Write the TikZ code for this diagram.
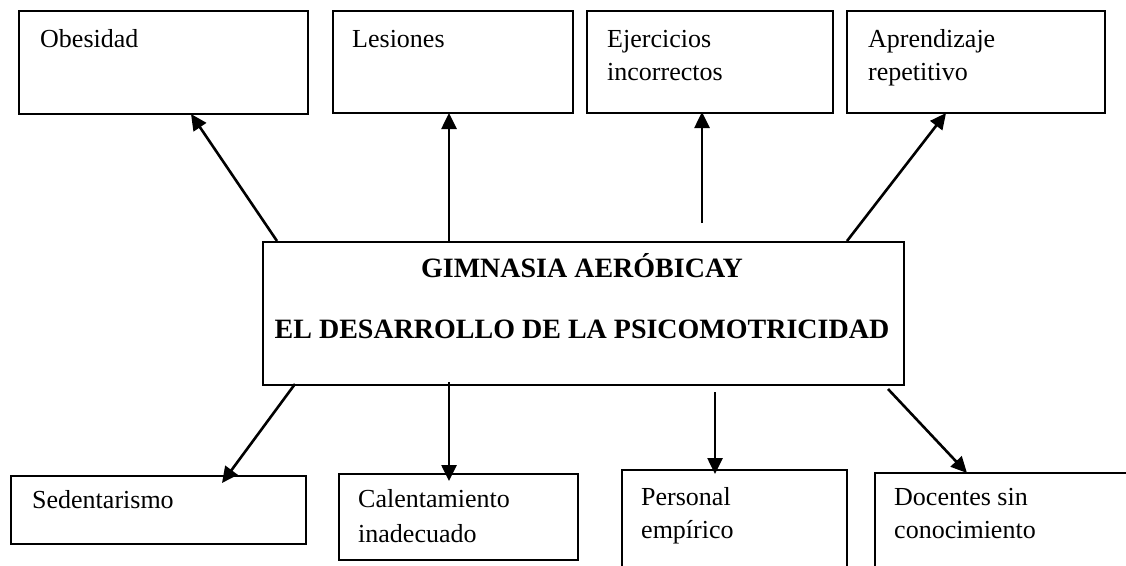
\documentclass[tikz,border=0pt]{standalone}
\usepackage{fontspec}
\setmainfont{Liberation Serif}
\usetikzlibrary{arrows.meta}
\begin{document}
\begin{tikzpicture}[x=1pt,y=-1pt,
  box/.style={draw, line width=1.8pt, rectangle, inner sep=0pt, anchor=north west},
  lbl/.style={anchor=base west, inner sep=0pt, font=\fontsize{26}{31}\selectfont},
  ttl/.style={anchor=base, inner sep=0pt, font=\fontsize{28}{30}\selectfont\bfseries},
  arr/.style={line width=2.6pt, -{Triangle[length=16pt,width=15pt]}}]
\useasboundingbox (0,0) rectangle (1126,565);
\clip (0,0) rectangle (1126,565);
% top boxes
\node[box, minimum width=289pt, minimum height=103pt] (obes) at (18,10) {};
\node[box, minimum width=240pt, minimum height=102pt] (les) at (332,10) {};
\node[box, minimum width=246pt, minimum height=102pt] (ejer) at (586,10) {};
\node[box, minimum width=258pt, minimum height=102pt] (apr) at (846,10) {};
\node[lbl] (obesT) at (40,47) {Obesidad};
\node[lbl] (lesT) at (352,47) {Lesiones};
\node[lbl] (ejerT1) at (607,47) {Ejercicios};
\node[lbl] (ejerT2) at (607,80) {incorrectos};
\node[lbl] (aprT1) at (868,47) {Aprendizaje};
\node[lbl] (aprT2) at (868,80) {repetitivo};
% center
\node[box, minimum width=641pt, minimum height=143pt] (cen) at (262,241) {};
\node[ttl] (t1) at (582,277) {GIMNASIA AERÓBICAY};
\node[ttl] (t2) at (582,338) {EL DESARROLLO DE LA PSICOMOTRICIDAD};
% bottom boxes
\node[box, minimum width=295pt, minimum height=68pt] (sed) at (10,475) {};
\node[box, minimum width=239pt, minimum height=86pt] (cal) at (338,473) {};
\node[box, minimum width=225pt, minimum height=120pt] (per) at (621,469) {};
\node[box, minimum width=280pt, minimum height=120pt] (doc) at (874,472) {};
\node[lbl] (sedT) at (32,508) {Sedentarismo};
\node[lbl] (calT1) at (358,507) {Calentamiento};
\node[lbl] (calT2) at (358,542) {inadecuado};
\node[lbl] (perT1) at (641,505) {Personal};
\node[lbl] (perT2) at (641,538) {empírico};
\node[lbl] (docT1) at (894,505) {Docentes sin};
\node[lbl] (docT2) at (894,538) {conocimiento};
% connector end points
\coordinate (s1) at (277,241); \coordinate (e1) at (191,114);
\coordinate (s2) at (449,241); \coordinate (e2) at (449,113);
\coordinate (s3) at (702,223); \coordinate (e3) at (702,112);
\coordinate (s4) at (847,241); \coordinate (e4) at (946,113);
\coordinate (s5) at (295,384); \coordinate (e5) at (222,483);
\coordinate (s6) at (449,382); \coordinate (e6) at (449,481);
\coordinate (s7) at (715,392); \coordinate (e7) at (715,474);
\coordinate (s8) at (888,389); \coordinate (e8) at (967,473);
\draw[arr] (s1) -- (e1);
\draw[arr] (s2) -- (e2);
\draw[arr] (s3) -- (e3);
\draw[arr] (s4) -- (e4);
\draw[arr] (s5) -- (e5);
\draw[arr] (s6) -- (e6);
\draw[arr] (s7) -- (e7);
\draw[arr] (s8) -- (e8);
\end{tikzpicture}
\end{document}
